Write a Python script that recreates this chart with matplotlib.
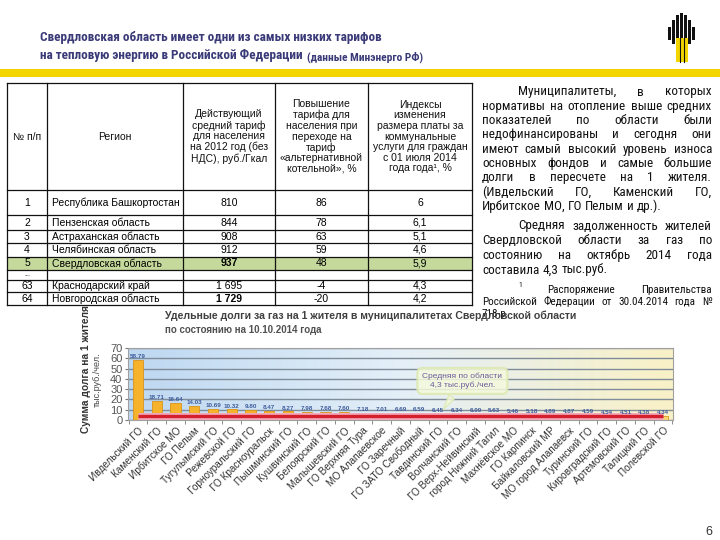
import numpy as np
import matplotlib
matplotlib.use('Agg')
import matplotlib.pyplot as plt
from matplotlib.patches import Rectangle
from matplotlib.colors import LinearSegmentedColormap

plt.rcParams['font.family'] = ['Liberation Sans', 'DejaVu Sans']
NARROW = ['Roboto Condensed', 'PT Sans Narrow', 'Liberation Sans', 'DejaVu Sans']

# --- таблица ---
headers = ['№ п/п', 'Регион',
           'Действующий\nсредний тариф\nдля населения\nна 2012 год (без\nНДС), руб./Гкал',
           'Повышение\nтарифа для\nнаселения при\nпереходе на\nтариф\n«альтернативной\nкотельной», %',
           'Индексы\nизменения\nразмера платы за\nкоммунальные\nуслуги для граждан\nс 01 июля 2014\nгода года¹, %']
nums = ['1', '2', '3', '4', '5', '...', '63', '64']
regions = ['Республика Башкортостан', 'Пензенская область', 'Астраханская область',
           'Челябинская область', 'Свердловская область', '', 'Краснодарский край',
           'Новгородская область']
tariff = ['810', '844', '908', '912', '937', '', '1 695', '1 729']
increase = ['86', '78', '63', '59', '48', '', '-4', '-20']
index_2014 = ['6', '6,1', '5,1', '4,6', '5,9', '', '4,3', '4,2']
bold_tariff = ['937', '1 729']

# --- диаграмма ---
municipalities = ['Ивдельский ГО', 'Каменский ГО', 'Ирбитское МО', 'ГО Пелым',
                  'Тугулымский ГО', 'Режевской ГО', 'Горноуральский ГО', 'ГО Красноуральск',
                  'Пышминский ГО', 'Кушвинский ГО', 'Белоярский ГО', 'Малышевский ГО',
                  'ГО Верхняя Тура', 'МО Алапаевское', 'ГО Заречный', 'ГО ЗАТО Свободный',
                  'Тавдинский ГО', 'Волчанский ГО', 'ГО Верх-Нейвинский', 'город Нижний Тагил',
                  'Махнёвское МО', 'ГО Карпинск', 'Байкаловский МР', 'МО город Алапаевск',
                  'Туринский ГО', 'Кировградский ГО', 'Артемовский ГО', 'Талицкий ГО',
                  'Полевской ГО']
debts = [58.79, 18.71, 16.64, 14.03, 10.69, 10.32, 9.80, 8.47, 8.27, 7.98, 7.68, 7.60,
         7.18, 7.01, 6.69, 6.59, 6.45, 6.34, 6.09, 5.63, 5.46, 5.18, 4.89, 4.87, 4.59,
         4.54, 4.51, 4.38, 4.34]
avg_debt = 4.3

para1 = [['Муниципалитеты,', 'в', 'которых'],
         ['нормативы', 'на', 'отопление', 'выше', 'средних'],
         ['показателей', 'по', 'области', 'были'],
         ['недофинансированы', 'и', 'сегодня', 'они'],
         ['имеют', 'самый', 'высокий', 'уровень', 'износа'],
         ['основных', 'фондов', 'и', 'самые', 'большие'],
         ['долги', 'в', 'пересчете', 'на', '1', 'жителя.'],
         ['(Ивдельский', 'ГО,', 'Каменский', 'ГО,'],
         ['Ирбитское', 'МО,', 'ГО', 'Пелым', 'и', 'др.).']]
para2 = [['Средняя', 'задолженность', 'жителей'],
         ['Свердловской', 'области', 'за', 'газ', 'по'],
         ['состоянию', 'на', 'октябрь', '2014', 'года'],
         ['составила', '4,3', 'тыс.руб.']]
note = [['Распоряжение', 'Правительства'],
        ['Российской', 'Федерации', 'от', '30.04.2014', 'года', '№'],
        ['718-р']]

fig = plt.figure(figsize=(7.2, 5.4), dpi=100)
r = fig.canvas.get_renderer()

# --- столбчатая диаграмма ---
ax = fig.add_axes([128/720, 1-420/540, 545/720, 72/540])
x = np.arange(len(debts))
grad = np.linspace(0, 1, 256).reshape(1, -1)
bg = LinearSegmentedColormap.from_list('bg', ['#bdd8f1', '#e4eff8', '#f9f1c6'])
ax.imshow(grad, extent=[0, 1, 0, 1], transform=ax.transAxes, aspect='auto', cmap=bg, zorder=0)
colors = ['#f6b22a'] * (len(debts) - 1) + ['#f8d470']
ax.bar(x, debts, width=0.55, color=colors, edgecolor='#dc9418', lw=0.6, zorder=2)
for i, v in enumerate(debts):
    ax.text(i, v + 0.8, f'{v:.2f}', ha='center', va='bottom', fontsize=4.5,
            color='#3e5c9c', fontweight='bold', zorder=5)
ax.hlines(avg_debt, 0, len(debts) - 1, color='#f2a8ba', lw=5, zorder=3)
ax.hlines(avg_debt, 0, len(debts) - 1, color='#d41f2c', lw=2.4, zorder=4)
ax.set_xlim(-0.53, len(debts) - 0.47)
ax.set_ylim(0, 70)
ax.set_yticks(range(0, 71, 10))
ax.yaxis.grid(True, color='#7f8c99', lw=1)
ax.set_xticks(x)
ax.set_xticklabels(municipalities, rotation=45, ha='right', rotation_mode='anchor',
                   fontsize=7.2, color='#333333')
ax.set_xticks(np.arange(-0.5, len(debts), 1), minor=True)
ax.tick_params(axis='x', which='major', length=0, pad=4)
ax.tick_params(axis='x', which='minor', length=3, color='#777777')
ax.tick_params(axis='y', length=2, labelsize=8, labelcolor='#555555', color='#777777', pad=2)
for s in ax.spines.values():
    s.set_color('#a0a0a0')
    s.set_linewidth(0.8)
ax.annotate('Средняя по области\n4,3 тыс.руб./чел.', xy=(16.2, 8), xytext=(17.3, 38),
            ha='center', va='center', fontsize=6, color='#6a5a9a', zorder=6,
            bbox=dict(boxstyle='round,pad=0.6', fc='#f5f9dc', ec='#dde9b0', lw=1.5, alpha=0.85),
            arrowprops=dict(arrowstyle='wedge,tail_width=0.8,shrink_factor=0.5',
                            fc='#f5f9dc', ec='#dde9b0', alpha=0.85))

# --- слой в пикселях ---
ov = fig.add_axes([0, 0, 1, 1], zorder=5)
ov.set_xlim(0, 720)
ov.set_ylim(540, 0)
ov.axis('off')
ov.patch.set_alpha(0)


def fit(t, w):
    t.set_fontsize(t.get_fontsize() * w / t.get_window_extent(r).width)


def line(words, x0, x1, y, fs, just=True):
    arts = [ov.text(0, y, w, fontsize=fs, family=NARROW, va='baseline', color='#111111')
            for w in words]
    ws = [a.get_window_extent(r).width for a in arts]
    gap = (x1 - x0 - sum(ws)) / (len(ws) - 1) if just and len(ws) > 1 else fs * 0.32
    cx = x0
    for a, w in zip(arts, ws):
        a.set_x(cx)
        cx += w + gap


# заголовок
t1 = ov.text(40, 37, 'Свердловская область имеет одни из самых низких тарифов',
             fontsize=12, fontweight='bold', family=NARROW, color='#3a3a78', va='center')
fit(t1, 343)
t2 = ov.text(40, 56, 'на тепловую энергию в Российской Федерации',
             fontsize=t1.get_fontsize(), fontweight='bold', family=NARROW, color='#3a3a78',
             va='center')
w2 = t2.get_window_extent(r).width
ov.text(40 + w2 + 4, 57, '(данные Минэнерго РФ)', fontsize=t1.get_fontsize() * 0.86,
        fontweight='bold', family=NARROW, color='#3a3a78', va='center')
ov.add_patch(Rectangle((0, 69), 720, 8, color='#f3d500', lw=0))

# логотип
for cx, top, bot in zip([669, 673, 677, 681, 685, 689, 693],
                        [27, 20, 15, 13, 15, 20, 27], [40, 44, 46, 46, 46, 44, 40]):
    ov.add_patch(Rectangle((cx - 1.5, top), 3, bot - top, color='#111111', lw=0))
ov.add_patch(Rectangle((676, 38), 12, 24, color='#f2d600', lw=0))
for cx in [680, 684]:
    ov.plot([cx, cx], [38, 62], color='#111111', lw=0.8)

# подпись оси Y
ov.text(86, 433, 'Сумма долга на 1 жителя,', rotation=90, ha='center', va='bottom',
        fontsize=7.3, fontweight='bold', color='#333333', zorder=1)
ov.text(97, 407, 'тыс.руб./чел.', rotation=90, ha='center', va='bottom',
        fontsize=6.5, color='#444444', zorder=1)

# таблица
cols = [7, 47, 183, 275, 368, 472]
rows = [83, 190, 215, 230, 243, 257, 270, 280, 292, 305]
ov.add_patch(Rectangle((cols[0], rows[0]), cols[-1] - cols[0], rows[-1] - rows[0],
                       fc='white', ec='none', zorder=2))
ov.add_patch(Rectangle((cols[0], rows[5]), cols[-1] - cols[0], rows[6] - rows[5],
                       fc='#c6d99c', ec='none', zorder=2))
for yy in rows:
    ov.plot([cols[0], cols[-1]], [yy, yy], color='#111111', lw=0.9, zorder=3)
for xx in cols:
    ov.plot([xx, xx], [rows[0], rows[-1]], color='#111111', lw=0.9, zorder=3)
for j, h in enumerate(headers):
    ov.text((cols[j] + cols[j + 1]) / 2, (rows[0] + rows[1]) / 2, h, ha='center',
            va='center', fontsize=7.5, linespacing=1.08, color='#111111', zorder=4)
for i in range(len(nums)):
    yc = (rows[i + 1] + rows[i + 2]) / 2
    ov.text((cols[0] + cols[1]) / 2, yc, nums[i], ha='center', va='center',
            fontsize=7.5 if nums[i] != '...' else 5, zorder=4)
    ov.text(cols[1] + 5, yc, regions[i], ha='left', va='center', fontsize=7.5, zorder=4)
    ov.text((cols[2] + cols[3]) / 2, yc, tariff[i], ha='center', va='center', fontsize=7.5,
            fontweight='bold' if tariff[i] in bold_tariff else 'normal', zorder=4)
    ov.text((cols[3] + cols[4]) / 2, yc, increase[i], ha='center', va='center',
            fontsize=7.5, zorder=4)
    ov.text((cols[4] + cols[5]) / 2, yc, index_2014[i], ha='center', va='center',
            fontsize=7.5, zorder=4)

# текст справа
fs = 9.5
ys1 = np.linspace(92, 206.4, len(para1))
for k, (wds, yy) in enumerate(zip(para1, ys1)):
    line(wds, 518 if k == 0 else 482, 712, yy + 3.5, fs, just=k < len(para1) - 1)
ys2 = np.linspace(226, 270, len(para2))
for k, (wds, yy) in enumerate(zip(para2, ys2)):
    line(wds, 518 if k == 0 else 482, 712, yy + 3.5, fs, just=k < len(para2) - 1)
ov.text(518, 287, '1', fontsize=5.5, family=NARROW, va='baseline', color='#111111')
line(note[0], 547, 712, 293, 8)
line(note[1], 482, 712, 305, 8)
line(note[2], 482, 712, 317, 8, just=False)

# заголовок диаграммы
ct = ov.text(165, 316, 'Удельные долги за газ на 1 жителя в муниципалитетах Свердловской области',
             fontsize=8, fontweight='bold', color='#404040', va='center')
fit(ct, 413)
ov.text(165, 330, 'по состоянию на 10.10.2014 года', fontsize=7, fontweight='bold',
        color='#505050', va='center')

ov.text(709, 532, '6', fontsize=9, color='#333333', ha='center', va='center')

fig.savefig('out.png', dpi=100)
